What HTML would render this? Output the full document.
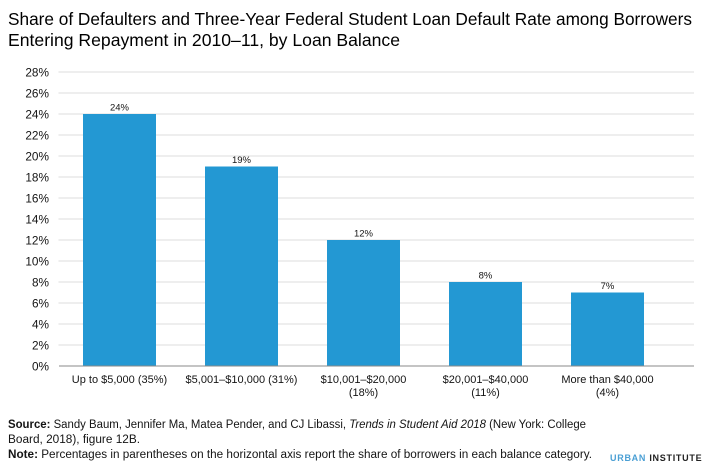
<!DOCTYPE html>
<html lang="en">
<head>
<meta charset="utf-8">
<title>Share of Defaulters and Default Rate by Loan Balance</title>
<style>
html,body{margin:0;padding:0;background:#fff;width:710px;height:466px;overflow:hidden}
svg{display:block}
text{font-family:"Liberation Sans",sans-serif;fill:#141414}
</style>
</head>
<body>
<svg id="chart" width="710" height="466" viewBox="0 0 710 466" xmlns="http://www.w3.org/2000/svg">
<g>
<text x="8" y="25" font-size="17.5" textLength="684" lengthAdjust="spacingAndGlyphs" style="fill:#000">Share of Defaulters and Three-Year Federal Student Loan Default Rate among Borrowers</text>
<text x="8" y="46" font-size="17.5" textLength="392" lengthAdjust="spacingAndGlyphs" style="fill:#000">Entering Repayment in 2010–11, by Loan Balance</text>
</g>
<g id="grid"></g>
<g id="yticks"></g>
<g id="bars"></g>
<g id="values"></g>
<line x1="59" x2="694" y1="366" y2="366" stroke="#8a8a8a" stroke-width="1"/>
<g id="xlabels"></g>
<g font-size="11.5">
<text x="8" y="428" textLength="578" lengthAdjust="spacingAndGlyphs"><tspan font-weight="bold">Source:</tspan> Sandy Baum, Jennifer Ma, Matea Pender, and CJ Libassi, <tspan font-style="italic">Trends in Student Aid 2018</tspan> (New York: College</text>
<text x="8" y="443" textLength="132" lengthAdjust="spacingAndGlyphs">Board, 2018), figure 12B.</text>
<text x="8" y="458" textLength="584" lengthAdjust="spacingAndGlyphs"><tspan font-weight="bold">Note:</tspan> Percentages in parentheses on the horizontal axis report the share of borrowers in each balance category.</text>
</g>
<text x="610" y="461" font-size="9" font-weight="bold" letter-spacing="1.4" textLength="93"><tspan fill="#4a9fd4">URBAN</tspan> <tspan fill="#222">INSTITUTE</tspan></text>
</svg>
<script>
const categories = [
  ["Up to $5,000 (35%)"],
  ["$5,001–$10,000 (31%)"],
  ["$10,001–$20,000", "(18%)"],
  ["$20,001–$40,000", "(11%)"],
  ["More than $40,000", "(4%)"]
];
const values = [24, 19, 12, 8, 7];
const valueLabels = ["24%", "19%", "12%", "8%", "7%"];
const yTicks = [0, 2, 4, 6, 8, 10, 12, 14, 16, 18, 20, 22, 24, 26, 28];

const NS = "http://www.w3.org/2000/svg";
const plotLeft = 58.5, plotRight = 694, plotBottom = 366, plotTop = 72;
const yMax = 28, band = 122, barWidth = 73;
const yScale = v => plotBottom - (v / yMax) * (plotBottom - plotTop);
const xCenter = i => plotLeft + band * i + band / 2;

function make(tag, attrs, parent, content) {
  const el = document.createElementNS(NS, tag);
  for (const k in attrs) el.setAttribute(k, attrs[k]);
  if (content !== undefined) el.textContent = content;
  parent.appendChild(el);
  return el;
}

const gridG = document.getElementById("grid");
const yG = document.getElementById("yticks");
const barsG = document.getElementById("bars");
const valG = document.getElementById("values");
const xG = document.getElementById("xlabels");

yTicks.forEach(t => {
  if (t !== 0) {
    const line = make("line", {x1: plotLeft, x2: plotRight, y1: yScale(t), y2: yScale(t), stroke: "#dcdcdc", "stroke-width": 1}, gridG);
    
    
  }
  const label = make("text", {x: 49, y: yScale(t) + 4.3, "text-anchor": "end", "font-size": 11.8}, yG, t + "%");
  
  
});

values.forEach((v, i) => {
  const bar = make("rect", {x: xCenter(i) - barWidth / 2, y: yScale(v), width: barWidth, height: plotBottom - yScale(v), fill: "#2398d3"}, barsG);
  
  
  const val = make("text", {x: xCenter(i), y: yScale(v) - 3.5, "text-anchor": "middle", "font-size": 9.5}, valG, valueLabels[i]);
  
  
  categories[i].forEach((line, j) => {
    const cat = make("text", {x: xCenter(i), y: 383 + j * 13, "text-anchor": "middle", "font-size": 11}, xG, line);
    
    
  });
});
</script>
</body>
</html>
